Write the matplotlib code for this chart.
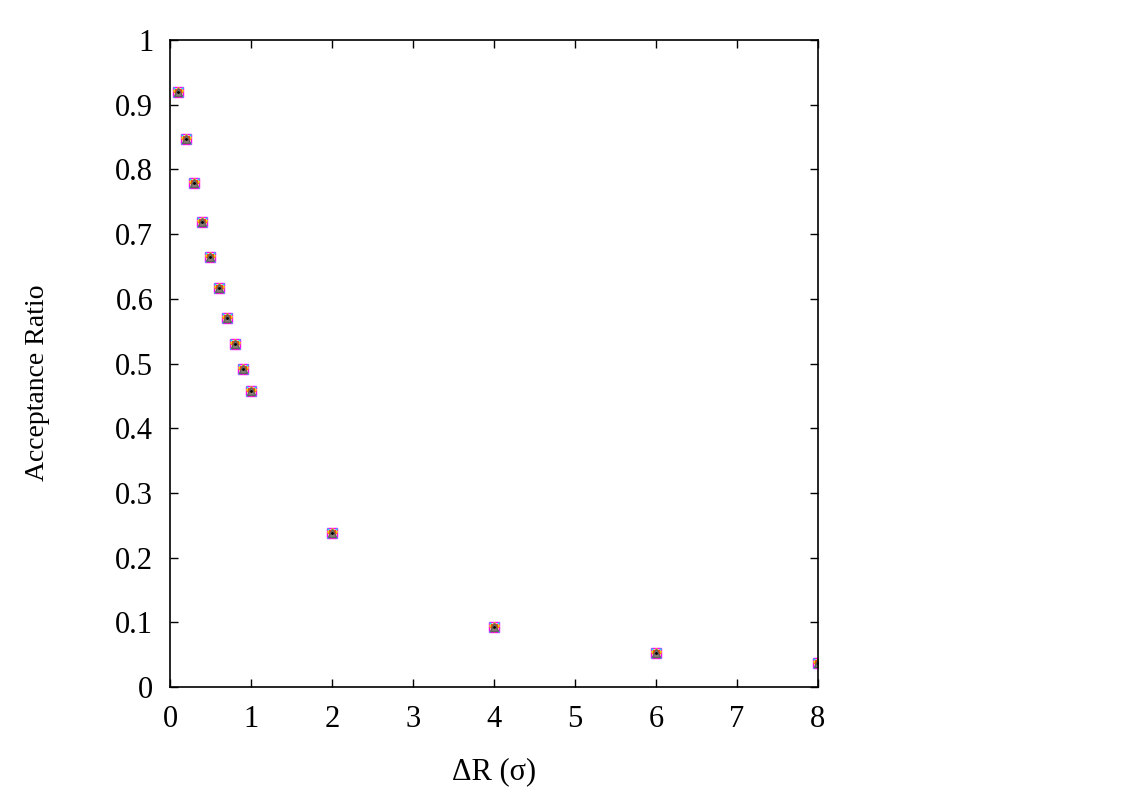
import matplotlib
matplotlib.use("Agg")
import matplotlib.pyplot as plt

plt.rcParams["font.family"] = ["Liberation Serif", "DejaVu Serif"]

dR = [0.1, 0.2, 0.3, 0.4, 0.5, 0.6, 0.7, 0.8, 0.9, 1.0, 2.0, 4.0, 6.0, 8.0]
ratio = [0.920, 0.847, 0.779, 0.719, 0.665, 0.616, 0.570, 0.530, 0.492, 0.458,
         0.238, 0.092, 0.052, 0.037]

# overlapping series, gnuplot-like point types and colours
styles = [
    ("s", "#ff00ff", "none", 7),
    ("x", "#00eeee", None, 7),
    ("*", "#eeee00", None, 7),
    ("+", "#ff8c00", None, 7),
    ("s", "#e05010", "#e05010", 4),
    ("^", "#606060", "#8a7f75", 6),
]

fig = plt.figure(figsize=(11.25, 7.88), dpi=100)
ax = fig.add_axes([0.1511, 0.1282, 0.5760, 0.8210])

for m, c, fc, size in styles:
    if fc is None:
        ax.plot(dR, ratio, ls="none", marker=m, color=c, ms=size, mew=1)
    else:
        ax.plot(dR, ratio, ls="none", marker=m, mec=c, mfc=fc, ms=size, mew=1)
ax.plot(dR, ratio, ls="none", marker=".", color="black", ms=2)

ax.set_xlim(0, 8)
ax.set_ylim(0, 1)
ax.set_xticks(range(0, 9))
ax.set_yticks([i / 10 for i in range(11)])
ax.set_yticklabels(["0", "0.1", "0.2", "0.3", "0.4", "0.5", "0.6", "0.7", "0.8", "0.9", "1"])
ax.tick_params(direction="in", top=True, right=True, labelsize=22, length=6, width=1)
ax.tick_params(axis="x", pad=13)
ax.tick_params(axis="y", pad=12)
for s in ax.spines.values():
    s.set_linewidth(1.2)

ax.set_xlabel("ΔR (σ)", fontsize=22)
ax.set_ylabel("Acceptance Ratio", fontsize=20)
ax.xaxis.set_label_coords(0.5, -0.108)
ax.yaxis.set_label_coords(-0.185, 0.47)

fig.savefig("out.png", dpi=100)
